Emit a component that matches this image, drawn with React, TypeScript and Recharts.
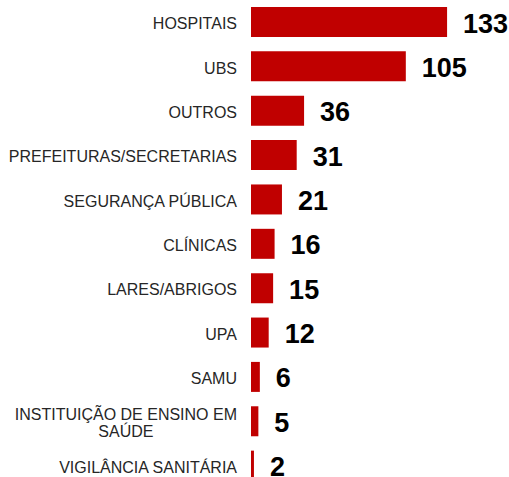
import { BarChart, Bar, XAxis, YAxis, LabelList } from 'recharts';

const categories = [
  'HOSPITAIS',
  'UBS',
  'OUTROS',
  'PREFEITURAS/SECRETARIAS',
  'SEGURANÇA PÚBLICA',
  'CLÍNICAS',
  'LARES/ABRIGOS',
  'UPA',
  'SAMU',
  'INSTITUIÇÃO DE ENSINO EM SAÚDE',
  'VIGILÂNCIA SANITÁRIA',
];
const values = [133, 105, 36, 31, 21, 16, 15, 12, 6, 5, 2];

// labels that wrap onto two lines in the original
const wrapped: Record<string, string[]> = {
  'INSTITUIÇÃO DE ENSINO EM SAÚDE': ['INSTITUIÇÃO DE ENSINO EM', 'SAÚDE'],
};

const data = categories.map((name, i) => ({ name, value: values[i] }));

const FONT = '"Liberation Sans", Arial, sans-serif';
const LABEL_RIGHT = 237;
const LABEL_SIZE = 16;

function measure(text: string, size: number) {
  const ctx = document.createElement('canvas').getContext('2d');
  if (!ctx) return text.length * size * 0.6;
  ctx.font = `${size}px ${FONT}`;
  return ctx.measureText(text).width;
}

function CategoryTick(props: any) {
  const { y, payload } = props;
  const lines = wrapped[payload.value];
  if (lines) {
    const w = measure(lines[0], LABEL_SIZE);
    const cx = LABEL_RIGHT - w / 2;
    return (
      <text fontFamily={FONT} fontSize={LABEL_SIZE} fill="#262626" textAnchor="middle">
        <tspan x={cx} y={y - 1.5}>{lines[0]}</tspan>
        <tspan x={cx} y={y + 15.8}>{lines[1]}</tspan>
      </text>
    );
  }
  return (
    <text x={LABEL_RIGHT} y={y + 7} fontFamily={FONT} fontSize={LABEL_SIZE} fill="#262626" textAnchor="end">
      {payload.value}
    </text>
  );
}

function ValueLabel(props: any) {
  const { x, y, width, height, value } = props;
  return (
    <text
      x={x + width + 16}
      y={y + height / 2 + 10.5}
      fontFamily={FONT}
      fontSize={27}
      fontWeight="bold"
      fill="#000"
    >
      {value}
    </text>
  );
}

export default function App() {
  return (
    <div style={{ position: 'absolute', left: 0, top: 0, width: 509, height: 477, overflow: 'hidden', background: '#fff' }}>
      <BarChart
        width={509}
        height={488}
        data={data}
        layout="vertical"
        margin={{ top: 0, right: 0, bottom: 0, left: 0 }}
      >
        <XAxis type="number" domain={[0, 175]} hide />
        <YAxis
          type="category"
          dataKey="name"
          width={251}
          axisLine={false}
          tickLine={false}
          interval={0}
          tick={<CategoryTick />}
        />
        <Bar dataKey="value" fill="#C00000" barSize={30} isAnimationActive={false}>
          <LabelList dataKey="value" content={<ValueLabel />} />
        </Bar>
      </BarChart>
    </div>
  );
}
